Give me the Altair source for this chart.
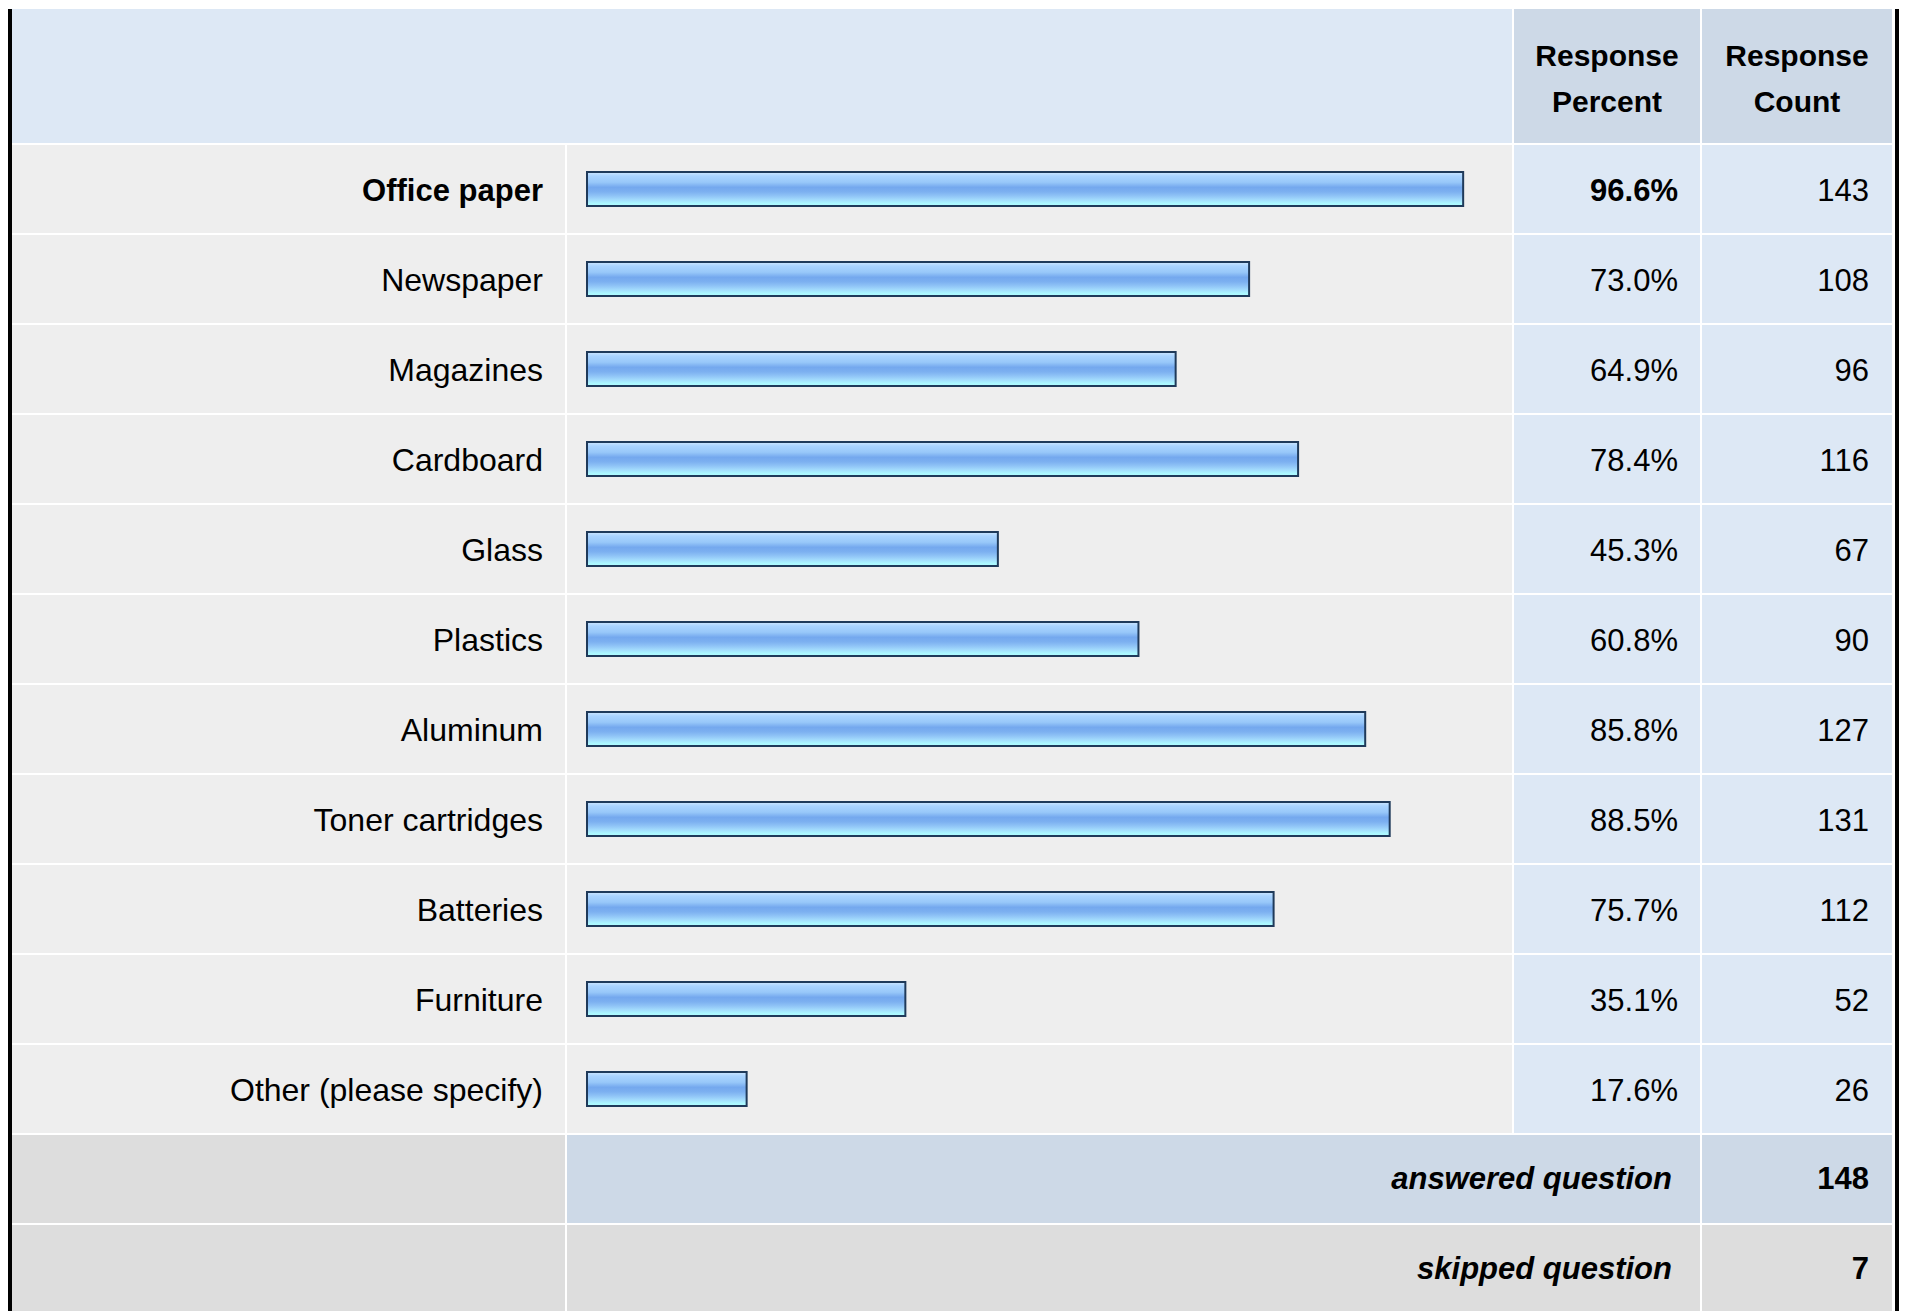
import altair as alt
import pandas as pd

# ---------------- data ----------------
categories = ["Office paper", "Newspaper", "Magazines", "Cardboard", "Glass", "Plastics",
              "Aluminum", "Toner cartridges", "Batteries", "Furniture", "Other (please specify)"]
percents = [96.6, 73.0, 64.9, 78.4, 45.3, 60.8, 85.8, 88.5, 75.7, 35.1, 17.6]
counts = [143, 108, 96, 116, 67, 90, 127, 131, 112, 52, 26]
header_pct = "Response\nPercent"
header_cnt = "Response\nCount"
answered_label = "answered question"
answered_count = 148
skipped_label = "skipped question"
skipped_count = 7

# ---------------- layout / style ----------------
FONT = "Liberation Sans"
FS = 31
FS_LABEL = 32
FS_HEAD = 30
W_LABEL, W_BAR, W_PCT, W_CNT = 557, 945, 186, 190
GAP = 2
ROW_H = 88
STEP = ROW_H + GAP
H_HEAD = 134
H_BODY = len(categories) * STEP - GAP

C_LABEL = "#eeeeee"
C_DATA = "#dde8f5"
C_HEAD = "#cdd9e7"
C_FOOT = "#dddddd"
C_BORDER = "#000000"
C_TEXT = "#000000"
BAR_STROKE = "#1f3a5a"

gradient = alt.LinearGradient(
    gradient="linear", x1=0, x2=0, y1=0, y2=1,
    stops=[
        alt.GradientStop(offset=0.0, color="#cfe8ff"),
        alt.GradientStop(offset=0.12, color="#a9d3ff"),
        alt.GradientStop(offset=0.3, color="#98c8f9"),
        alt.GradientStop(offset=0.45, color="#74a8ee"),
        alt.GradientStop(offset=0.58, color="#7cb0f0"),
        alt.GradientStop(offset=0.7, color="#8fc3f6"),
        alt.GradientStop(offset=0.82, color="#a3dcfd"),
        alt.GradientStop(offset=0.92, color="#abf7ff"),
        alt.GradientStop(offset=1.0, color="#b0fcff"),
    ],
)

df = pd.DataFrame({"category": categories, "percent": percents, "count": counts})
df["pct_text"] = df["percent"].map(lambda v: f"{v:.1f}%")
df["cnt_text"] = df["count"].astype(str)
df["top"] = df["percent"] == df["percent"].max()

one = pd.DataFrame({"k": [0]})

yenc = alt.Y("category:N", sort=categories,
             scale=alt.Scale(paddingInner=GAP / STEP, paddingOuter=0, range=[0, H_BODY]),
             axis=None)


def box(w, h, color, x0=0):
    return alt.Chart(one).mark_rect(color=color).encode(
        x=alt.value(x0), x2=alt.value(x0 + w), y=alt.value(0), y2=alt.value(h))


def left_border(h):
    return box(4, h, C_BORDER, 0)


def right_border(w, h):
    return box(4, h, C_BORDER, w + 3)


def header_text(w, txt):
    return alt.Chart(one).mark_text(
        text=txt, lineBreak="\n", lineHeight=46, align="center", baseline="alphabetic",
        font=FONT, fontSize=FS_HEAD, fontWeight="bold", color=C_TEXT,
    ).encode(x=alt.value(w / 2), y=alt.value(57))


# Each row block is GAP taller than its cells: the extra strip is the white grid line,
# so the black side borders stay continuous.
HH = H_HEAD + GAP
HB = H_BODY + GAP
HR = ROW_H + GAP

# ---------------- header row ----------------
W_MERGED_HEAD = W_LABEL + GAP + W_BAR
h_merged = alt.layer(box(W_MERGED_HEAD, H_HEAD, C_DATA), left_border(HH)).properties(
    width=W_MERGED_HEAD, height=HH)
h_pct = alt.layer(box(W_PCT, H_HEAD, C_HEAD), header_text(W_PCT, header_pct)).properties(
    width=W_PCT, height=HH)
h_cnt = alt.layer(box(W_CNT, H_HEAD, C_HEAD), header_text(W_CNT, header_cnt),
                  right_border(W_CNT, HH)).properties(width=W_CNT, height=HH)
head = alt.hconcat(h_merged, h_pct, h_cnt, spacing=GAP)


# ---------------- body ----------------
def row_bg(w, color):
    return alt.Chart(df).mark_rect(color=color).encode(y=yenc, x=alt.value(0), x2=alt.value(w))


def row_text(field, x, bold_top, size_normal):
    layers = []
    for is_bold in ([True, False] if bold_top else [False]):
        flt = "datum.top" if is_bold else ("!datum.top" if bold_top else "true")
        layers.append(
            alt.Chart(df).transform_filter(flt).mark_text(
                align="right", baseline="alphabetic", dy=12, font=FONT,
                fontSize=FS if is_bold else size_normal,
                fontWeight="bold" if is_bold else "normal", color=C_TEXT,
            ).encode(y=yenc, x=alt.value(x), text=f"{field}:N")
        )
    return layers


b_label = alt.layer(row_bg(W_LABEL, C_LABEL), *row_text("category", W_LABEL - 22, True, FS_LABEL),
                    left_border(HB)).properties(width=W_LABEL, height=HB)

bars = alt.Chart(df).mark_bar(size=34, fill=gradient, stroke=BAR_STROKE, strokeWidth=2).encode(
    y=yenc,
    x=alt.X("percent:Q", scale=alt.Scale(domain=[0, 100], range=[20, 927]), axis=None),
)
b_bar = alt.layer(row_bg(W_BAR, C_LABEL), bars).properties(width=W_BAR, height=HB)

b_pct = alt.layer(row_bg(W_PCT, C_DATA), *row_text("pct_text", W_PCT - 22, True, FS)).properties(
    width=W_PCT, height=HB)
b_cnt = alt.layer(row_bg(W_CNT, C_DATA), *row_text("cnt_text", W_CNT - 23, False, FS),
                  right_border(W_CNT, HB)).properties(width=W_CNT, height=HB)
body = alt.hconcat(b_label, b_bar, b_pct, b_cnt, spacing=GAP)


# ---------------- footer rows ----------------
def footer(label, value, mid_color, cnt_color):
    lab = alt.layer(box(W_LABEL, ROW_H, C_FOOT), left_border(HR)).properties(
        width=W_LABEL, height=HR)
    w_mid = W_BAR + GAP + W_PCT
    mid_txt = alt.Chart(pd.DataFrame({"t": [label]})).mark_text(
        align="right", baseline="alphabetic", font=FONT, fontSize=FS, fontWeight="bold",
        fontStyle="italic", color=C_TEXT,
    ).encode(x=alt.value(w_mid - 28), y=alt.value(ROW_H / 2 + 10), text="t:N")
    mid = alt.layer(box(w_mid, ROW_H, mid_color), mid_txt).properties(width=w_mid, height=HR)
    cnt_txt = alt.Chart(pd.DataFrame({"t": [str(value)]})).mark_text(
        align="right", baseline="alphabetic", font=FONT, fontSize=FS, fontWeight="bold",
        color=C_TEXT,
    ).encode(x=alt.value(W_CNT - 23), y=alt.value(ROW_H / 2 + 10), text="t:N")
    cnt = alt.layer(box(W_CNT, ROW_H, cnt_color), cnt_txt,
                    right_border(W_CNT, HR)).properties(width=W_CNT, height=HR)
    return alt.hconcat(lab, mid, cnt, spacing=GAP)


ans = footer(answered_label, answered_count, C_HEAD, C_HEAD)
skp = footer(skipped_label, skipped_count, C_FOOT, C_FOOT)

chart = alt.vconcat(head, body, ans, skp, spacing=0).properties(
    padding={"left": 0, "top": 1, "right": 0, "bottom": 0},
    background="white",
).configure_view(stroke=None)

chart.save("out.html", embed_options={"renderer": "svg", "actions": False})
